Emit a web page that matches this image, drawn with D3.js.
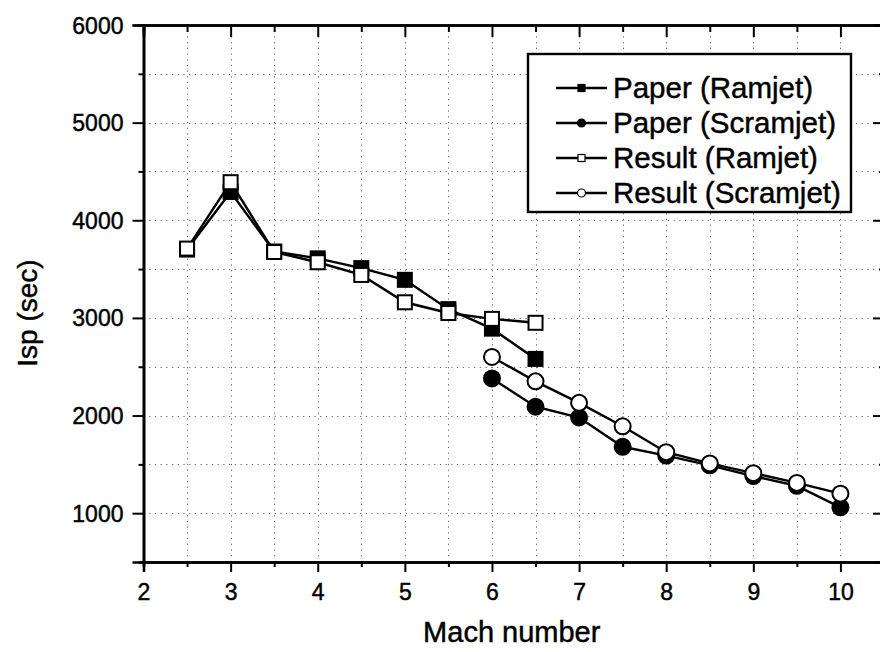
<!DOCTYPE html>
<html>
<head>
<meta charset="utf-8">
<script src="https://cdn.jsdelivr.net/npm/d3@7"></script>
<style>
  html, body { margin: 0; padding: 0; background: #fff; }
  #diagram svg { display: block; font-family: 'Liberation Sans', Arial, sans-serif; }
  #diagram text { stroke: #000; stroke-width: 0.45px; fill: #000; }
</style>
</head>
<body>
<div id="diagram"></div>
<script>
// data
const machRamjet = [2.5, 3, 3.5, 4, 4.5, 5, 5.5, 6, 6.5];
const paperRamjet = [3700, 4290, 3680, 3610, 3510, 3390, 3090, 2890, 2580];
const resultRamjet = [3710, 4390, 3675, 3570, 3440, 3160, 3050, 2990, 2950];

const machScramjet = [6, 6.5, 7, 7.5, 8, 8.5, 9, 9.5, 10];
const paperScramjet = [2380, 2090, 1980, 1680, 1590, 1490, 1380, 1280, 1060];
const resultScramjet = [2600, 2350, 2130, 1890, 1625, 1510, 1410, 1310, 1200];

const xTicks = [2, 3, 4, 5, 6, 7, 8, 9, 10];
const yTicks = [1000, 2000, 3000, 4000, 5000, 6000];
const legendLabels = ['Paper (Ramjet)', 'Paper (Scramjet)', 'Result (Ramjet)', 'Result (Scramjet)'];

!(function () {
  'use strict';
  // - - - - - - - - - -
  // declaration
  let
    canvas = undefined,
    svg = undefined,
    x = undefined,
    y = undefined,
    series = undefined,

    setCanvas = undefined,
    setScales = undefined,
    setGrid = undefined,
    setAxes = undefined,
    setSeries = undefined,
    setLegend = undefined;

  canvas = {
    width: 880,
    height: 652,
    plot: { left: 143.5, right: 884, top: 25, bottom: 562 }
  };

  series = [
    { name: legendLabels[0], xs: machRamjet, ys: paperRamjet, shape: 'square', filled: true },
    { name: legendLabels[1], xs: machScramjet, ys: paperScramjet, shape: 'circle', filled: true },
    { name: legendLabels[2], xs: machRamjet, ys: resultRamjet, shape: 'square', filled: false },
    { name: legendLabels[3], xs: machScramjet, ys: resultScramjet, shape: 'circle', filled: false }
  ];

  // methods
  setCanvas = function (contextSelector) {
    svg = d3.select(contextSelector)
      .append('svg')
      .attr('width', canvas.width)
      .attr('height', canvas.height);
  };

  setScales = function () {
    x = d3.scaleLinear().domain([2, 10.5]).range([canvas.plot.left, canvas.plot.right]);
    y = d3.scaleLinear().domain([500, 6000]).range([canvas.plot.bottom, canvas.plot.top]);
  };

  setGrid = function () {
    let g = svg.append('g')
      .attr('stroke', '#666')
      .attr('stroke-width', 1)
      .attr('stroke-dasharray', '1.2,4.5');

    g.selectAll()
      .data(d3.range(2.5, 10.51, 0.5))
      .enter()
      .append('line')
      .attr('x1', function (d) { return Math.round(x(d)) + 0.5; })
      .attr('x2', function (d) { return Math.round(x(d)) + 0.5; })
      .attr('y1', canvas.plot.top)
      .attr('y2', canvas.plot.bottom);

    g.selectAll()
      .data(d3.range(1000, 5501, 500))
      .enter()
      .append('line')
      .attr('y1', function (d) { return Math.round(y(d)) + 0.5; })
      .attr('y2', function (d) { return Math.round(y(d)) + 0.5; })
      .attr('x1', canvas.plot.left)
      .attr('x2', canvas.plot.right);
  };

  setAxes = function () {
    let p = canvas.plot;

    // bottom (ticks outward)
    let bottom = svg.append('g')
      .attr('transform', 'translate(0,' + p.bottom + ')')
      .call(d3.axisBottom(x).tickValues(xTicks).tickSize(10).tickPadding(6).tickFormat(d3.format('d')));
    svg.append('g')
      .attr('transform', 'translate(0,' + p.bottom + ')')
      .call(d3.axisBottom(x).tickValues(d3.range(2.5, 10.5, 1)).tickSize(5).tickFormat(''));

    // left (ticks outward)
    let left = svg.append('g')
      .attr('transform', 'translate(' + p.left + ',0)')
      .call(d3.axisLeft(y).tickValues(yTicks).tickSize(11).tickPadding(9).tickFormat(d3.format('d')));
    svg.append('g')
      .attr('transform', 'translate(' + p.left + ',0)')
      .call(d3.axisLeft(y).tickValues(d3.range(1500, 5501, 1000)).tickSize(5).tickFormat(''));

    // top and right mirror (ticks inward)
    svg.append('g')
      .attr('transform', 'translate(0,' + p.top + ')')
      .call(d3.axisBottom(x).tickValues(xTicks).tickSize(12).tickFormat(''));
    svg.append('g')
      .attr('transform', 'translate(0,' + p.top + ')')
      .call(d3.axisBottom(x).tickValues(d3.range(2.5, 10.5, 1)).tickSize(7).tickFormat(''));
    svg.append('g')
      .attr('transform', 'translate(' + p.right + ',0)')
      .call(d3.axisLeft(y).tickValues(yTicks).tickSize(11).tickFormat(''));
    svg.append('g')
      .attr('transform', 'translate(' + p.right + ',0)')
      .call(d3.axisLeft(y).tickValues(d3.range(1500, 5501, 1000)).tickSize(5).tickFormat(''));

    svg.selectAll('.domain').attr('stroke', '#000').attr('stroke-width', 2.6);
    svg.selectAll('.tick line').attr('stroke', '#000').attr('stroke-width', 2);
    svg.selectAll('.tick text')
      .style('font-size', '23px')
      .style('font-family', "'Liberation Sans', Arial, sans-serif");
    left.selectAll('.tick text').attr('dy', '0.35em');
    bottom.selectAll('.tick text').attr('dy', '0.95em');

    // titles
    svg.append('text')
      .attr('x', (p.left + 880) / 2)
      .attr('y', 642)
      .attr('text-anchor', 'middle')
      .style('font-size', '29px')
      .text('Mach number');

    svg.append('text')
      .attr('transform', 'translate(37,' + 313 + ') rotate(-90)')
      .attr('text-anchor', 'middle')
      .style('font-size', '28px')
      .text('Isp (sec)');
  };

  setSeries = function () {
    series.forEach(function (s) {
      let pts = s.xs.map(function (d, i) { return [d, s.ys[i]]; });
      let g = svg.append('g');

      g.append('path')
        .datum(pts)
        .attr('fill', 'none')
        .attr('stroke', '#000')
        .attr('stroke-width', 2.4)
        .attr('d', d3.line()
          .x(function (d) { return x(d[0]); })
          .y(function (d) { return y(d[1]); }));

      if (s.shape === 'square') {
        g.selectAll()
          .data(pts)
          .enter()
          .append('rect')
          .attr('x', function (d) { return x(d[0]) - 7; })
          .attr('y', function (d) { return y(d[1]) - 7; })
          .attr('width', 14)
          .attr('height', 14)
          .attr('fill', s.filled ? '#000' : '#fff')
          .attr('stroke', '#000')
          .attr('stroke-width', 2);
      } else {
        g.selectAll()
          .data(pts)
          .enter()
          .append('circle')
          .attr('cx', function (d) { return x(d[0]); })
          .attr('cy', function (d) { return y(d[1]); })
          .attr('r', 8)
          .attr('fill', s.filled ? '#000' : '#fff')
          .attr('stroke', '#000')
          .attr('stroke-width', 2);
      }
    });
  };

  setLegend = function () {
    let lg = svg.append('g');

    lg.append('rect')
      .attr('x', 528)
      .attr('y', 54)
      .attr('width', 323)
      .attr('height', 158)
      .attr('fill', '#fff')
      .attr('stroke', '#000')
      .attr('stroke-width', 2.4);

    let row = lg.selectAll()
      .data(series)
      .enter()
      .append('g')
      .attr('transform', function (d, i) { return 'translate(0,' + (88 + i * 35) + ')'; });

    row.append('line')
      .attr('x1', 556)
      .attr('x2', 607)
      .attr('stroke', '#000')
      .attr('stroke-width', 2.6);

    row.filter(function (d) { return d.shape === 'square'; })
      .append('rect')
      .attr('x', 578)
      .attr('y', -3.5)
      .attr('width', 7)
      .attr('height', 7)
      .attr('fill', function (d) { return d.filled ? '#000' : '#fff'; })
      .attr('stroke', '#000')
      .attr('stroke-width', 1.2);

    row.filter(function (d) { return d.shape === 'circle'; })
      .append('circle')
      .attr('cx', 581.5)
      .attr('r', 4)
      .attr('fill', function (d) { return d.filled ? '#000' : '#fff'; })
      .attr('stroke', '#000')
      .attr('stroke-width', 1.2);

    row.append('text')
      .attr('x', 613)
      .attr('y', 10)
      .style('font-size', '29.5px')
      .text(function (d) { return d.name; });
  };

  // control
  setCanvas('#diagram');
  setScales();
  setGrid();
  setAxes();
  setSeries();
  setLegend();

  // - - - - - - - - - -
}());
</script>
</body>
</html>
